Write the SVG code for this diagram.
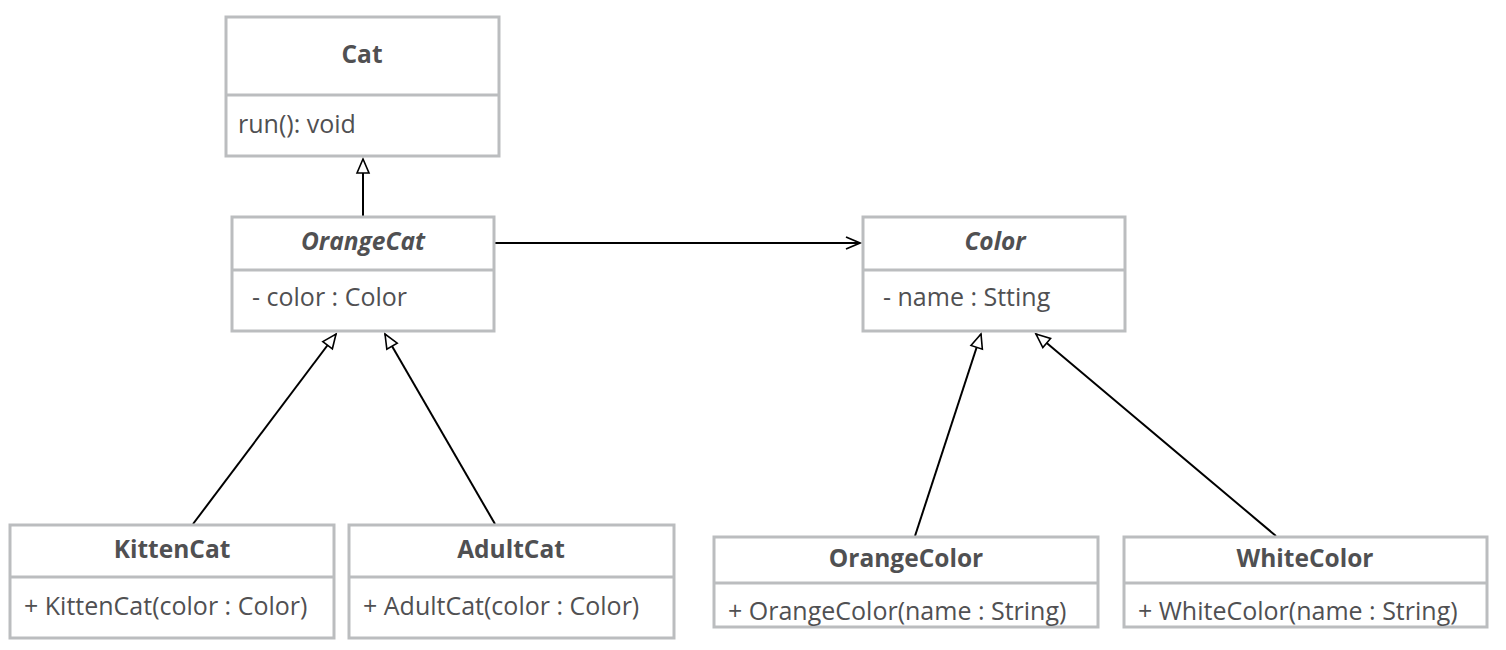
<svg xmlns="http://www.w3.org/2000/svg" width="1506" height="650" viewBox="0 0 1506 650">
<style>
.box{fill:#fff;stroke:#bbbdbf;stroke-width:3}
.div{stroke:#bbbdbf;stroke-width:3}
.t{font-family:"Open Sans","Liberation Sans",sans-serif;font-size:24.5px;fill:#505052;font-weight:bold;text-anchor:middle}
.ti{font-style:italic}
.b{font-family:"Open Sans","Liberation Sans",sans-serif;font-size:25px;fill:#505052}
.c{stroke:#000;stroke-width:2;fill:none}
</style>
<defs>
<marker id="tri" markerUnits="userSpaceOnUse" markerWidth="20" markerHeight="20" viewBox="0 0 20 20" refX="16" refY="10" orient="auto">
<path d="M2,4 L16,10 L2,16 Z" fill="#fff" stroke="#000" stroke-width="1.6"/>
</marker>
<marker id="open" markerUnits="userSpaceOnUse" markerWidth="20" markerHeight="20" viewBox="0 0 20 20" refX="17" refY="10" orient="auto">
<path d="M3,4 L17,10 L3,16" fill="none" stroke="#000" stroke-width="1.8"/>
</marker>
</defs>
<g id="connectors">
<line class="c" x1="363" y1="216" x2="363" y2="159" marker-end="url(#tri)"/>
<line class="c" x1="495" y1="243" x2="860" y2="243" marker-end="url(#open)"/>
<line class="c" x1="193" y1="524" x2="336" y2="334" marker-end="url(#tri)"/>
<line class="c" x1="495" y1="524" x2="385" y2="334" marker-end="url(#tri)"/>
<line class="c" x1="915" y1="536" x2="981" y2="334" marker-end="url(#tri)"/>
<line class="c" x1="1276" y1="536" x2="1036" y2="334" marker-end="url(#tri)"/>
</g>
<g id="Cat">
<rect class="box" x="226" y="17" width="273" height="139"/>
<line class="div" x1="226" y1="95" x2="499" y2="95"/>
<text class="t" x="362" y="63">Cat</text>
<text class="b" x="238" y="133">run(): void</text>
</g>
<g id="OrangeCat">
<rect class="box" x="232" y="217" width="262" height="114"/>
<line class="div" x1="232" y1="270" x2="494" y2="270"/>
<text class="t ti" x="363" y="250">OrangeCat</text>
<text class="b" x="252" y="306">- color : Color</text>
</g>
<g id="Color">
<rect class="box" x="863" y="217" width="262" height="114"/>
<line class="div" x1="863" y1="270" x2="1125" y2="270"/>
<text class="t ti" x="995" y="250">Color</text>
<text class="b" x="883" y="306">- name : Stting</text>
</g>
<g id="KittenCat">
<rect class="box" x="10" y="525" width="324" height="113"/>
<line class="div" x1="10" y1="577" x2="334" y2="577"/>
<text class="t" x="172" y="558">KittenCat</text>
<text class="b" x="24" y="615">+ KittenCat(color : Color)</text>
</g>
<g id="AdultCat">
<rect class="box" x="349" y="525" width="325" height="113"/>
<line class="div" x1="349" y1="577" x2="674" y2="577"/>
<text class="t" x="511" y="558">AdultCat</text>
<text class="b" x="363" y="615">+ AdultCat(color : Color)</text>
</g>
<g id="OrangeColor">
<rect class="box" x="714" y="537" width="384" height="90"/>
<line class="div" x1="714" y1="583" x2="1098" y2="583"/>
<text class="t" x="906" y="567">OrangeColor</text>
<text class="b" x="728" y="620">+ OrangeColor(name : String)</text>
</g>
<g id="WhiteColor">
<rect class="box" x="1124" y="537" width="363" height="90"/>
<line class="div" x1="1124" y1="583" x2="1487" y2="583"/>
<text class="t" x="1305" y="567">WhiteColor</text>
<text class="b" x="1138" y="620">+ WhiteColor(name : String)</text>
</g>
</svg>
